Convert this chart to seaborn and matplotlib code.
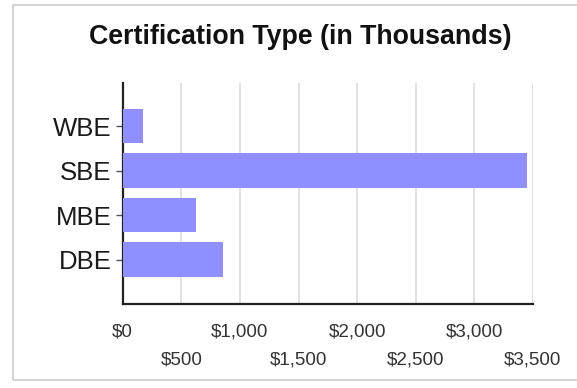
import matplotlib
matplotlib.use("Agg")
import matplotlib.pyplot as plt
from matplotlib.patches import Rectangle
from matplotlib.ticker import FixedLocator
import seaborn as sns
import pandas as pd

# Certification counts (in thousands of dollars)
categories = ["WBE", "SBE", "MBE", "DBE"]
values = [171, 3447, 623, 858]
major_ticks = [0, 1000, 2000, 3000]
minor_ticks = [500, 1500, 2500, 3500]
major_labels = ["$0", "$1,000", "$2,000", "$3,000"]
minor_labels = ["$500", "$1,500", "$2,500", "$3,500"]
title = "Certification Type (in Thousands)"

df = pd.DataFrame({"category": categories, "value": values})

sns.set_style("white")
plt.rcParams["font.family"] = ["Liberation Sans", "DejaVu Sans"]

fig = plt.figure(figsize=(5.77, 3.88), dpi=100)
ax = fig.add_axes([0.2127, 0.2165, 0.7110, 0.5695])

sns.barplot(data=df, x="value", y="category", order=categories,
            color="#8f8fff", saturation=1, width=0.78, linewidth=0,
            ax=ax, zorder=3)

ax.set_xlim(0, 3500)
ax.set_ylim(4.0, -0.97)

# alternating tick label rows
ax.xaxis.set_major_locator(FixedLocator(major_ticks))
ax.xaxis.set_minor_locator(FixedLocator(minor_ticks))
ax.set_xticklabels(major_labels)
ax.set_xticklabels(minor_labels, minor=True)
ax.tick_params(axis="x", which="major", length=6, width=1, color="#555555",
               pad=8, labelsize=13.5, labelcolor="#333333", direction="out")
ax.tick_params(axis="x", which="minor", length=6, width=1, color="#555555",
               pad=28, labelsize=13.5, labelcolor="#333333", direction="out")
ax.xaxis.grid(True, which="both", color="#dcdcdc", linewidth=1.2, zorder=0)
ax.set_axisbelow(True)

ax.set_yticks(range(len(categories)))
ax.set_yticklabels(categories)
ax.tick_params(axis="y", length=5, width=1, color="#555555", pad=3,
               labelsize=18.5, labelcolor="#1a1a1a", direction="out", left=True)

for side in ("top", "right"):
    ax.spines[side].set_visible(False)
for side in ("left", "bottom"):
    ax.spines[side].set_color("#222222")
    ax.spines[side].set_linewidth(1.6)

ax.set_xlabel("")
ax.set_ylabel("")

fig.text(0.52, 0.905, title, ha="center", va="center",
         fontsize=19.3, fontweight="bold", color="#111111")

# light frame around the chart
fig.patches.append(Rectangle((13 / 577, 1 - 380 / 388), 570 / 577, 375 / 388,
                             transform=fig.transFigure, fill=False,
                             edgecolor="#d4d4d4", linewidth=1.5))

fig.savefig("out.png", dpi=100)
